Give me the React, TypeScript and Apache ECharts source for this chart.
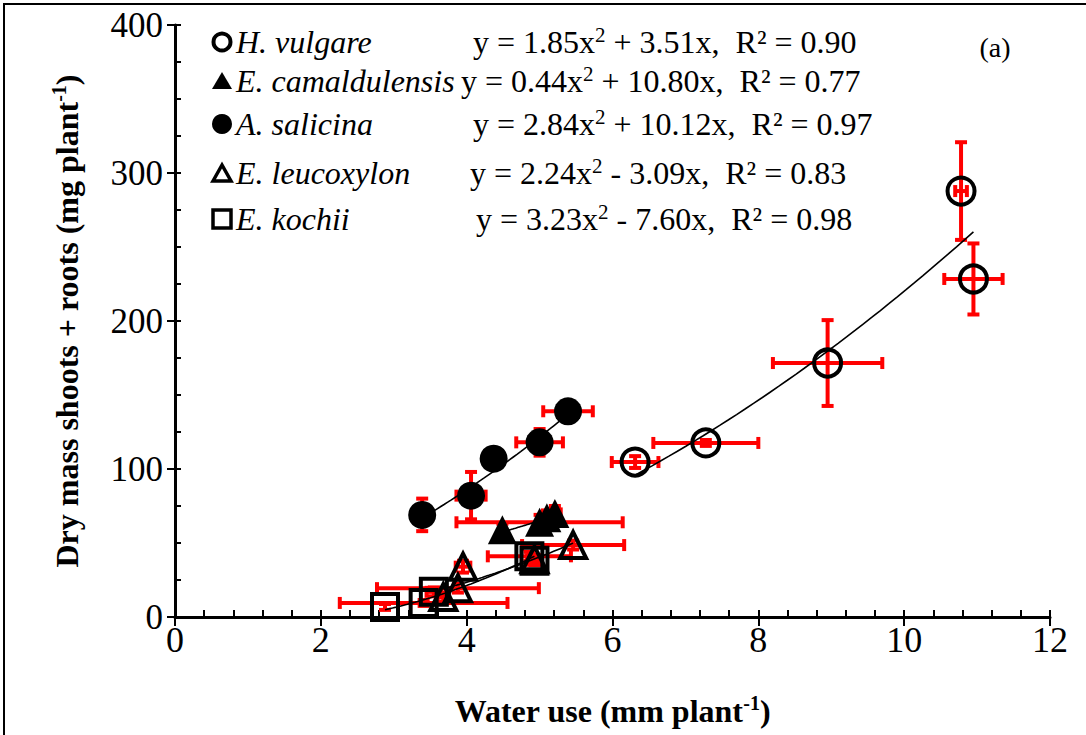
import React, { useEffect, useRef } from 'react';
import * as echarts from 'echarts';

const FONT = '"Liberation Serif", "Times New Roman", serif';

// ---- Data ----
// H. vulgare (open circles)
const hvX = [6.31, 7.28, 8.95, 10.78, 10.95];
const hvY = [104.7, 117.6, 171.6, 287.8, 228.4];
const hvXErr = [0.32, 0.72, 0.75, 0.08, 0.4];
const hvYErr = [4, 2, 29, 33, 24];
// E. camaldulensis (filled triangles)
const ecX = [4.49, 5.0, 5.1, 5.21];
const ecY = [59, 64, 67, 70];
const ecXErr = [0, 1.14, 0.08, 0.08];
const ecYErr = [4, 5, 5, 5];
// A. salicina (filled circles)
const asX = [3.39, 4.06, 4.37, 5.0, 5.39];
const asY = [69, 82, 107, 118, 139];
const asXErr = [0, 0.2, 0, 0.32, 0.34];
const asYErr = [11, 16, 0, 9, 3];
// E. leucoxylon (open triangles)
const elX = [3.68, 3.88, 3.95, 4.93, 5.46];
const elY = [13.5, 19.5, 34, 39, 48.6];
const elXErr = [0.08, 1.11, 0.1, 0.1, 0.7];
const elYErr = [3, 3, 4, 3, 3];
// E. kochii (open squares)
const ekX = [2.88, 3.41, 3.55, 4.86, 4.93];
const ekY = [6.8, 9.5, 17, 41, 38];
const ekXErr = [0, 1.15, 0.1, 0.57, 0.1];
const ekYErr = [2, 2, 3, 3, 3];

// Legend / fit equations
const speciesNames = ['H. vulgare', 'E. camaldulensis', 'A. salicina', 'E. leucoxylon', 'E. kochii'];
const coefA = [1.85, 0.44, 2.84, 2.24, 3.23];
const coefB = [3.51, 10.8, 10.12, -3.09, -7.6];
const rSquared = [0.9, 0.77, 0.97, 0.83, 0.98];
const fitRanges = [
  [6.31, 10.95],
  [4.49, 5.21],
  [3.39, 5.39],
  [3.68, 5.46],
  [2.88, 4.93],
];

const xAxisMin = 0;
const xAxisMax = 12;
const xAxisInterval = 2;
const yAxisMin = 0;
const yAxisMax = 400;
const yAxisInterval = 100;

const xTitle = 'Water use (mm plant';
const yTitle = 'Dry mass shoots + roots (mg plant';
const panelLabel = '(a)';

function zip4(xs: number[], ys: number[], xe: number[], ye: number[]) {
  return xs.map((x, i) => [x, ys[i], xe[i], ye[i]]);
}

function fitCurve(i: number) {
  const [lo, hi] = fitRanges[i];
  const pts: number[][] = [];
  const n = 40;
  for (let k = 0; k <= n; k++) {
    const x = lo + ((hi - lo) * k) / n;
    pts.push([x, coefA[i] * x * x + coefB[i] * x]);
  }
  return pts;
}

function eqText(i: number) {
  const b = coefB[i];
  const sign = b >= 0 ? '+' : '-';
  return `{n|y = ${coefA[i].toFixed(2)}x}{s|2}{n| ${sign} ${Math.abs(b).toFixed(2)}x,  R}{r|²}{n| = ${rSquared[i].toFixed(2)}}`;
}

export default function App() {
  const ref = useRef<HTMLDivElement>(null);
  useEffect(() => {
    if (!ref.current) return;
    const chart = echarts.init(ref.current, undefined, { renderer: 'svg' });

    const errData = [
      ...zip4(hvX, hvY, hvXErr, hvYErr),
      ...zip4(ecX, ecY, ecXErr, ecYErr),
      ...zip4(asX, asY, asXErr, asYErr),
      ...zip4(elX, elY, elXErr, elYErr),
      ...zip4(ekX, ekY, ekXErr, ekYErr),
    ];

    const open = { color: 'rgba(0,0,0,0)', borderColor: '#000', borderWidth: 4, opacity: 1 };
    const filled = { color: '#000', opacity: 1 };

    const rowY = [42, 81, 124, 173, 219];
    const eqX = [473, 461, 473, 470, 476];
    const symX = 222;
    const legendSyms: any[] = [
      { type: 'circle', shape: { cx: symX, cy: rowY[0], r: 8.5 }, style: { fill: 'none', stroke: '#000', lineWidth: 4 } },
      { type: 'polygon', shape: { points: [[symX - 10, rowY[1] + 8], [symX, rowY[1] - 9], [symX + 10, rowY[1] + 8]] }, style: { fill: '#000' } },
      { type: 'circle', shape: { cx: symX, cy: rowY[2], r: 10 }, style: { fill: '#000' } },
      { type: 'polygon', shape: { points: [[symX - 9, rowY[3] + 8], [symX, rowY[3] - 8], [symX + 9, rowY[3] + 8]] }, style: { fill: 'none', stroke: '#000', lineWidth: 3.5 } },
      { type: 'rect', shape: { x: symX - 9, y: rowY[4] - 9, width: 18, height: 18 }, style: { fill: 'none', stroke: '#000', lineWidth: 3.5 } },
    ];
    const legendTexts: any[] = speciesNames.map((nm, i) => ({
      type: 'text',
      x: 236,
      y: rowY[i],
      style: { text: nm, font: `italic 32px ${FONT}`, fill: '#000', verticalAlign: 'middle', align: 'left' },
    }));
    const eqTexts: any[] = speciesNames.map((_, i) => ({
      type: 'text',
      x: eqX[i],
      y: rowY[i],
      style: {
        text: eqText(i),
        verticalAlign: 'middle',
        align: 'left',
        fill: '#000',
        rich: {
          n: { fontFamily: FONT, fontSize: 32, color: '#000', lineHeight: 36 },
          s: { fontFamily: FONT, fontSize: 21, color: '#000', verticalAlign: 'top', lineHeight: 36, padding: [0, 0, 10, 0] },
          r: { fontFamily: FONT, fontSize: 32, color: '#000', lineHeight: 36 },
        },
      },
    }));

    const axisFontX = { fontFamily: FONT, fontSize: 36, color: '#000' };
    const axisFontY = { fontFamily: FONT, fontSize: 35, color: '#000' };
    const nameRich = {
      t: { fontFamily: FONT, fontSize: 32, fontWeight: 'bold', color: '#000', lineHeight: 36 },
      sup: { fontFamily: FONT, fontSize: 20, fontWeight: 'bold', color: '#000', lineHeight: 36, verticalAlign: 'top', padding: [0, 0, 10, 0] },
    };

    const option: any = {
      animation: false,
      backgroundColor: '#fff',
      grid: { left: 175, right: 36, top: 25, bottom: 118, containLabel: false },
      xAxis: [
        {
          type: 'value',
          min: xAxisMin,
          max: xAxisMax,
          interval: xAxisInterval,
          position: 'bottom',
          axisLine: { show: true, onZero: false, lineStyle: { color: '#000', width: 3 } },
          axisTick: { show: true, inside: false, length: 9, lineStyle: { color: '#000', width: 2 } },
          axisLabel: { ...axisFontX, margin: 5 },
          splitLine: { show: false },
          name: `{t|${xTitle}}{sup|-1}{t|)}`,
          nameLocation: 'middle',
          nameGap: 76,
          nameTextStyle: { rich: nameRich },
        },
        {
          type: 'value',
          min: xAxisMin,
          max: xAxisMax,
          interval: xAxisInterval,
          position: 'bottom',
          axisLine: { show: false, onZero: false },
          axisTick: { show: true, inside: true, length: 7, lineStyle: { color: '#000', width: 2 } },
          minorTick: { show: true, splitNumber: 5, length: 7, lineStyle: { color: '#000', width: 2 } },
          axisLabel: { show: false },
          splitLine: { show: false },
        },
      ],
      yAxis: [
        {
          type: 'value',
          min: yAxisMin,
          max: yAxisMax,
          interval: yAxisInterval,
          position: 'left',
          axisLine: { show: true, onZero: false, lineStyle: { color: '#000', width: 3 } },
          axisTick: { show: true, inside: false, length: 8, lineStyle: { color: '#000', width: 2 } },
          axisLabel: { ...axisFontY, margin: 12 },
          splitLine: { show: false },
          name: `{t|${yTitle}}{sup|-1}{t|)}`,
          nameLocation: 'middle',
          nameRotate: 90,
          nameGap: 90,
          nameTextStyle: { rich: nameRich },
        },
        {
          type: 'value',
          min: yAxisMin,
          max: yAxisMax,
          interval: yAxisInterval,
          position: 'left',
          axisLine: { show: false, onZero: false },
          axisTick: { show: true, inside: true, length: 6, lineStyle: { color: '#000', width: 2 } },
          minorTick: { show: true, splitNumber: 4, length: 6, lineStyle: { color: '#000', width: 2 } },
          axisLabel: { show: false },
          splitLine: { show: false },
        },
      ],
      graphic: [
        { type: 'rect', shape: { x: 4, y: 4, width: 1200, height: 1000 }, style: { fill: 'none', stroke: '#000', lineWidth: 2 }, silent: true },
        ...legendSyms,
        ...legendTexts,
        ...eqTexts,
        {
          type: 'text',
          x: 995,
          y: 47,
          style: { text: panelLabel, font: `28px ${FONT}`, fill: '#000', align: 'center', verticalAlign: 'middle' },
        },
      ],
      series: [
        {
          type: 'custom',
          name: 'errors',
          coordinateSystem: 'cartesian2d',
          encode: { x: 0, y: 1 },
          data: errData,
          renderItem: (params: any, api: any) => {
            const x = api.value(0);
            const y = api.value(1);
            const xe = api.value(2);
            const ye = api.value(3);
            const style = { stroke: '#ff0000', lineWidth: 4, fill: 'none' };
            const cap = 6;
            const children: any[] = [];
            if (xe > 0) {
              const l = api.coord([x - xe, y]);
              const r = api.coord([x + xe, y]);
              children.push({ type: 'line', shape: { x1: l[0], y1: l[1], x2: r[0], y2: r[1] }, style });
              children.push({ type: 'line', shape: { x1: l[0], y1: l[1] - cap, x2: l[0], y2: l[1] + cap }, style });
              children.push({ type: 'line', shape: { x1: r[0], y1: r[1] - cap, x2: r[0], y2: r[1] + cap }, style });
            }
            if (ye > 0) {
              const t = api.coord([x, y + ye]);
              const b = api.coord([x, y - ye]);
              children.push({ type: 'line', shape: { x1: t[0], y1: t[1], x2: b[0], y2: b[1] }, style });
              children.push({ type: 'line', shape: { x1: t[0] - cap, y1: t[1], x2: t[0] + cap, y2: t[1] }, style });
              children.push({ type: 'line', shape: { x1: b[0] - cap, y1: b[1], x2: b[0] + cap, y2: b[1] }, style });
            }
            return { type: 'group', children };
          },
          z: 1,
        },
        ...speciesNames.map((nm, i) => ({
          type: 'line',
          name: nm + ' fit',
          data: fitCurve(i),
          showSymbol: false,
          symbol: 'none',
          smooth: false,
          lineStyle: { color: '#000', width: 1.6 },
          z: 2,
        })),
        {
          type: 'scatter',
          name: 'H. vulgare',
          data: hvX.map((x, i) => [x, hvY[i]]),
          symbol: 'circle',
          symbolSize: 27,
          itemStyle: open,
          z: 3,
        },
        {
          type: 'scatter',
          name: 'E. camaldulensis',
          data: ecX.map((x, i) => [x, ecY[i]]),
          symbol: 'triangle',
          symbolSize: [29, 29],
          itemStyle: filled,
          z: 3,
        },
        {
          type: 'scatter',
          name: 'A. salicina',
          data: asX.map((x, i) => [x, asY[i]]),
          symbol: 'circle',
          symbolSize: 28,
          itemStyle: filled,
          z: 3,
        },
        {
          type: 'scatter',
          name: 'E. leucoxylon',
          data: elX.map((x, i) => [x, elY[i]]),
          symbol: 'triangle',
          symbolSize: [26, 26],
          itemStyle: open,
          z: 3,
        },
        {
          type: 'scatter',
          name: 'E. kochii',
          data: ekX.map((x, i) => [x, ekY[i]]),
          symbol: 'rect',
          symbolSize: 26,
          itemStyle: { ...open, borderRadius: 2 },
          z: 3,
        },
      ],
    };
    chart.setOption(option);
    return () => chart.dispose();
  }, []);

  return (
    <div
      ref={ref}
      style={{ position: 'absolute', left: 0, top: 0, width: 1086, height: 735, background: '#fff' }}
    />
  );
}
